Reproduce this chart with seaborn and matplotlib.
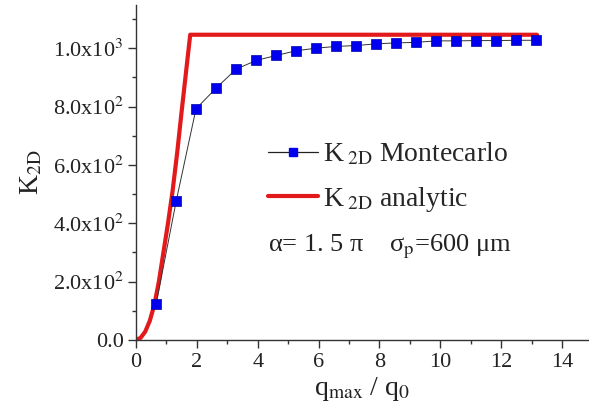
import matplotlib
matplotlib.use("Agg")
import matplotlib.pyplot as plt
from matplotlib.lines import Line2D
from matplotlib.ticker import FixedLocator, MultipleLocator
import seaborn as sns
import pandas as pd

# Analytic K_2D curve
q_analytic = [0.0, 0.15, 0.3, 0.45, 0.6, 0.75, 0.9, 1.05, 1.2, 1.35, 1.5, 1.65, 1.78, 13.18]
k_analytic = [0, 7, 28, 65, 120, 200, 300, 400, 510, 640, 785, 925, 1046, 1046]

# Monte Carlo K_2D estimates
q_mc = [0.66, 1.32, 1.97, 2.63, 3.29, 3.95, 4.61, 5.26, 5.92, 6.58,
        7.24, 7.90, 8.55, 9.21, 9.87, 10.53, 11.18, 11.84, 12.50, 13.16]
k_mc = [123, 476, 792, 863, 928, 958, 975, 991, 1000, 1006,
        1009, 1015, 1018, 1020, 1025, 1025, 1026, 1026, 1027, 1027]

y_ticks = [0, 200, 400, 600, 800, 1000]
y_tick_labels = ["0.0", "2.0x10$^{2}$", "4.0x10$^{2}$", "6.0x10$^{2}$",
                 "8.0x10$^{2}$", "1.0x10$^{3}$"]
x_ticks = [0, 2, 4, 6, 8, 10, 12, 14]

sns.set_style("ticks")
plt.rcParams["font.family"] = ["Liberation Serif", "DejaVu Serif"]
plt.rcParams["mathtext.fontset"] = "stix"

RED = "#e31a1c"
BLUE = "#0000ee"

fig = plt.figure(figsize=(5.89, 4.16), dpi=100)
ax = fig.add_axes([0.231, 0.183, 0.767, 0.805])

df_a = pd.DataFrame({"q": q_analytic, "K": k_analytic})
df_m = pd.DataFrame({"q": q_mc, "K": k_mc})

sns.lineplot(data=df_a, x="q", y="K", ax=ax, color=RED, linewidth=3.0,
             sort=False, zorder=2)
sns.lineplot(data=df_m, x="q", y="K", ax=ax, color="#333333", linewidth=0.7,
             marker="s", markersize=7.3, markerfacecolor=BLUE,
             markeredgecolor="#0000aa", markeredgewidth=0.5, sort=False, zorder=3)

ax.set_xlim(0, 14.85)
ax.set_ylim(0, 1148)
ax.yaxis.set_major_locator(FixedLocator(y_ticks))
ax.set_yticklabels(y_tick_labels)
ax.yaxis.set_minor_locator(MultipleLocator(100))
ax.xaxis.set_major_locator(FixedLocator(x_ticks))
ax.xaxis.set_minor_locator(MultipleLocator(1))

for side in ("top", "right"):
    ax.spines[side].set_visible(False)
for side in ("left", "bottom"):
    ax.spines[side].set_color("#333333")
    ax.spines[side].set_linewidth(1.0)

ax.tick_params(axis="both", which="major", direction="out", length=6,
               width=1.0, color="#333333", labelsize=16, labelcolor="#222222")
ax.tick_params(axis="both", which="minor", direction="out", length=3,
               width=1.0, color="#333333")
ax.tick_params(axis="y", pad=3)

ax.set_xlabel(r"q$_{\mathrm{max}}$ / q$_{0}$", fontsize=20, color="#222222",
              labelpad=2)
ax.set_ylabel(r"K$_{\mathrm{2D}}$", fontsize=20, color="#222222", labelpad=6)

handles = [
    Line2D([], [], color="#222222", linewidth=0.9, marker="s", markersize=6,
           markerfacecolor=BLUE, markeredgecolor=BLUE),
    Line2D([], [], color=RED, linewidth=3.0),
]
labels = [r"K$_{\;\mathrm{2D}}$ Montecarlo", r"K$_{\;\mathrm{2D}}$ analytic"]
ax.legend(handles, labels, loc="upper left", bbox_to_anchor=(0.292, 0.593),
          frameon=False, fontsize=20, handlelength=1.8, handletextpad=0.18,
          labelspacing=0.62, borderaxespad=0, borderpad=0)

ax.text(0.292, 0.263, "α= 1. 5 π    σ$_{\\mathrm{p}}$=600 μm",
        transform=ax.transAxes, fontsize=19, color="#222222",
        ha="left", va="baseline")

fig.savefig("out.png", dpi=100)
